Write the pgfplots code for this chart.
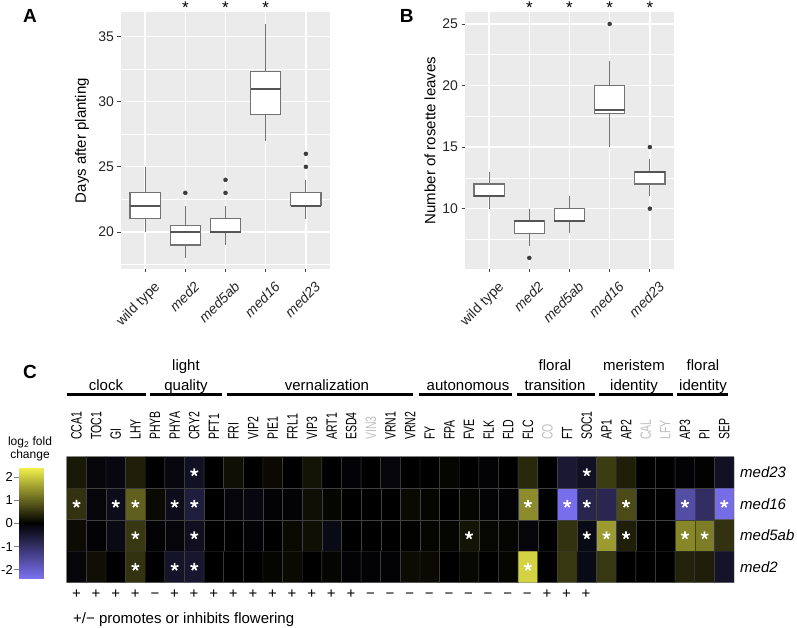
\documentclass[border=0pt]{standalone}
\usepackage{pgfplots}
\pgfplotsset{compat=1.18}
\usepgfplotslibrary{statistics}
\usepackage{graphicx}
\usepackage{fontspec}
\setmainfont{Liberation Sans}
\definecolor{panelbg}{RGB}{235,235,235}
\definecolor{boxline}{RGB}{115,115,115}
\definecolor{medline}{RGB}{85,85,85}
\definecolor{outl}{RGB}{60,60,60}
\definecolor{lgray}{RGB}{190,190,190}
\newcommand{\fsz}[1]{\fontsize{#1bp}{#1bp}\selectfont}
\newcommand{\g}[1]{\scalebox{0.7}[1]{#1}}
\newcommand{\gx}[1]{\scalebox{0.7}[1]{\textcolor{lgray}{#1}}}

\pgfplotstableread{
x y c
0 0 0.25
1 0 -0.1
2 0 -0.15
3 0 0.3
4 0 0
5 0 -0.15
6 0 -0.35
7 0 0
8 0 0.15
9 0 0
10 0 0.1
11 0 0
12 0 0.2
13 0 0
14 0 -0.05
15 0 0
16 0 -0.1
17 0 0
18 0 0
19 0 0.05
20 0 0
21 0 -0.05
22 0 0
23 0 0.4
24 0 0
25 0 -0.5
26 0 -0.35
27 0 0.6
28 0 0.3
29 0 0
30 0 0
31 0 -0.05
32 0 -0.03
33 0 -0.35
0 1 0.5
1 1 -0.1
2 1 -0.25
3 1 0.95
4 1 0.1
5 1 -0.25
6 1 -0.6
7 1 0
8 1 -0.1
9 1 -0.15
10 1 -0.05
11 1 -0.05
12 1 0.15
13 1 0.05
14 1 0
15 1 0
16 1 0
17 1 0.1
18 1 0.05
19 1 0
20 1 0.05
21 1 -0.05
22 1 -0.05
23 1 1.4
24 1 0
25 1 -2.3
26 1 -0.75
27 1 -0.8
28 1 0.75
29 1 0
30 1 0
31 1 -1.6
32 1 -0.95
33 1 -2.25
0 2 0.12
1 2 -0.05
2 2 -0.2
3 2 0.55
4 2 -0.05
5 2 -0.1
6 2 -0.3
7 2 0
8 2 0
9 2 -0.05
10 2 0
11 2 0.1
12 2 0.15
13 2 -0.2
14 2 0
15 2 0
16 2 0
17 2 0.02
18 2 0.05
19 2 0.05
20 2 0.2
21 2 0.07
22 2 0.05
23 2 -0.1
24 2 0
25 2 0.5
26 2 -0.2
27 2 1.55
28 2 0.3
29 2 0
30 2 0
31 2 1.35
32 2 1.25
33 2 0.5
0 3 -0.1
1 3 0.15
2 3 0
3 3 0.5
4 3 0
5 3 -0.4
6 3 -0.45
7 3 0
8 3 0
9 3 0
10 3 0.05
11 3 0.1
12 3 0
13 3 0.05
14 3 -0.05
15 3 -0.05
16 3 -0.05
17 3 0.12
18 3 0.1
19 3 0
20 3 0.08
21 3 0
22 3 0.05
23 3 2.1
24 3 0
25 3 0.55
26 3 -0.2
27 3 0.55
28 3 0
29 3 0
30 3 0
31 3 0.35
32 3 0.3
33 3 -0.4
}\heatdata

\pgfplotsset{
  heatmap/.style={colormap={heat}{rgb255=(125,115,245) rgb255=(0,0,0) rgb255=(240,240,75)},
    point meta min=-2.4, point meta max=2.4},
  ggbox/.style={
    scale only axis, width=209bp, height=257bp, anchor=south west,
    axis background/.style={fill=panelbg},
    axis line style={draw=none},
    xmin=-0.6, xmax=4.6,
    xtick={0,1,2,3,4},
    xticklabels={wild type, \textit{med2}, \textit{med5ab}, \textit{med16}, \textit{med23}},
    xmajorgrids, ymajorgrids, yminorgrids,
    major grid style={white, line width=1.3bp},
    minor grid style={white, line width=0.7bp},
    tick pos=left,
    tick align=outside, major tick length=3.5bp, minor tick length=0pt,
    tick style={draw=black!75, line width=0.8bp},
    /pgf/number format/assume math mode=true,
    ticklabel style={font=\fsz{14}, text=black!85},
    xticklabel style={xshift=8bp, yshift=-8bp, rotate=45, anchor=north east, inner sep=0pt},
    label style={font=\fsz{15}},
    clip=false,
    boxplot/draw direction=y,
    boxplot/box extend=0.75,
    boxplot/whisker extend=0,
    boxplot/every box/.style={draw=boxline, fill=white, line width=1.2bp},
    boxplot/every whisker/.style={draw=boxline, line width=1.2bp},
    boxplot/every median/.style={draw=medline, line width=1.7bp},
  },
  bx/.style={boxplot prepared={#1}, draw=boxline, fill=white, mark=*, mark size=2bp, mark options={draw=outl, fill=outl}},
}

\begin{document}
\begin{tikzpicture}
\useasboundingbox (0,0) rectangle (797bp,628bp);

% ---------------- Panel A
\begin{axis}[ggbox, at={(121bp,359bp)},
  ymin=17.15, ymax=36.9,
  ytick={20,25,30,35}, minor ytick={17.5,22.5,27.5,32.5},
  ylabel={Days after planting},
  ylabel style={at={(axis description cs:-0.187,0.5)}, anchor=center}]
\addplot[bx={draw position=0, lower whisker=20, lower quartile=21, median=22, upper quartile=23, upper whisker=25}] coordinates {};
\addplot[bx={draw position=1, lower whisker=18, lower quartile=19, median=20, upper quartile=20.5, upper whisker=22}] table[row sep=\\, y index=0] {data\\ 23\\};
\addplot[bx={draw position=2, lower whisker=19, lower quartile=20, median=20, upper quartile=21, upper whisker=22}] table[row sep=\\, y index=0] {data\\ 23\\ 24\\};
\addplot[bx={draw position=3, lower whisker=27, lower quartile=29, median=31, upper quartile=32.3, upper whisker=36}] coordinates {};
\addplot[bx={draw position=4, lower whisker=21, lower quartile=22, median=22, upper quartile=23, upper whisker=24}] table[row sep=\\, y index=0] {data\\ 25\\ 26\\};
\node[anchor=north, inner sep=0pt, font=\fsz{17}] at (axis cs:1,37.69) {*};
\node[anchor=north, inner sep=0pt, font=\fsz{17}] at (axis cs:2,37.69) {*};
\node[anchor=north, inner sep=0pt, font=\fsz{17}] at (axis cs:3,37.69) {*};
\end{axis}

% ---------------- Panel B
\begin{axis}[ggbox, at={(465bp,359bp)},
  ymin=5.1, ymax=25.97,
  ytick={10,15,20,25}, minor ytick={7.5,12.5,17.5,22.5},
  ylabel={Number of rosette leaves},
  ylabel style={at={(axis description cs:-0.167,0.5)}, anchor=center}]
\addplot[bx={draw position=0, lower whisker=10, lower quartile=11, median=11, upper quartile=12, upper whisker=13}] coordinates {};
\addplot[bx={draw position=1, lower whisker=7, lower quartile=8, median=9, upper quartile=9, upper whisker=10}] table[row sep=\\, y index=0] {data\\ 6\\};
\addplot[bx={draw position=2, lower whisker=8, lower quartile=9, median=9, upper quartile=10, upper whisker=11}] coordinates {};
\addplot[bx={draw position=3, lower whisker=15, lower quartile=17.75, median=18, upper quartile=20, upper whisker=22}] table[row sep=\\, y index=0] {data\\ 25\\};
\addplot[bx={draw position=4, lower whisker=11, lower quartile=12, median=13, upper quartile=13, upper whisker=14}] table[row sep=\\, y index=0] {data\\ 10\\ 15\\};
\node[anchor=north, inner sep=0pt, font=\fsz{17}] at (axis cs:1,26.81) {*};
\node[anchor=north, inner sep=0pt, font=\fsz{17}] at (axis cs:2,26.81) {*};
\node[anchor=north, inner sep=0pt, font=\fsz{17}] at (axis cs:3,26.81) {*};
\node[anchor=north, inner sep=0pt, font=\fsz{17}] at (axis cs:4,26.81) {*};
\end{axis}

% ---------------- Panel C heatmap
\begin{axis}[heatmap, at={(66.7bp,45.3bp)}, anchor=south west, scale only axis,
  width=667.3bp, height=126bp,
  xmin=-0.5, xmax=33.5, ymin=-0.5, ymax=3.5, y dir=reverse,
  axis line style={draw=none},
  tick style={draw=none},
  xtick={0,...,33},
  xticklabels={\g{CCA1},\g{TOC1},\g{GI},\g{LHY},\g{PHYB},\g{PHYA},\g{CRY2},\g{PFT1},\g{FRI},\g{VIP2},\g{PIE1},\g{FRL1},\g{VIP3},\g{ART1},\g{ESD4},\gx{VIN3},\g{VRN1},\g{VRN2},\g{FY},\g{FPA},\g{FVE},\g{FLK},\g{FLD},\g{FLC},\gx{CO},\g{FT},\g{SOC1},\g{AP1},\g{AP2},\gx{CAL},\gx{LFY},\g{AP3},\g{PI},\g{SEP}},
  xticklabel pos=upper,
  xticklabel style={rotate=90, anchor=west, inner sep=0pt, font=\fsz{15}},
  xticklabel shift=16.7bp,
  ytick={0,1,2,3},
  yticklabels={med23,med16,med5ab,med2},
  yticklabel pos=right,
  yticklabel style={anchor=west, inner sep=0pt, font=\fsz{15}\itshape},
  yticklabel shift=6bp,
  clip=false]
\addplot[matrix plot*, mesh/cols=34, point meta=explicit, draw=black!75!white, line width=0.4bp] table[meta=c] {\heatdata};
\addplot[only marks, mark=star, mark size=4bp, draw=white, line width=1.7bp] coordinates {
(6,0) (26,0)
(0,1) (2,1) (3,1) (5,1) (6,1) (23,1) (25,1) (26,1) (28,1) (31,1) (33,1)
(3,2) (6,2) (20,2) (26,2) (27,2) (28,2) (31,2) (32,2)
(3,3) (5,3) (6,3) (23,3)
};
\end{axis}

% ---------------- colour scale
\begin{axis}[heatmap, at={(19bp,49bp)}, anchor=south west, scale only axis,
  width=25bp, height=111.3bp,
  xmin=0, xmax=1, ymin=-2.4, ymax=2.4,
  axis line style={draw=none},
  xtick=\empty,
  ytick={-2,-1,0,1,2},
  ytick pos=left,
  tick align=outside, major tick length=5bp,
  ytick style={draw=gray, line width=0.6bp},
  /pgf/number format/assume math mode=true,
  yticklabel style={font=\fsz{13}, inner sep=1bp},
  clip=true]
\addplot[surf, shader=interp, mesh/cols=2, point meta=y] coordinates {(0,-2.4) (1,-2.4) (0,0) (1,0) (0,2.4) (1,2.4)};
\end{axis}

\begin{scope}[x=1bp,y=1bp]
% group bars and labels
\begin{scope}[line width=3bp]
\draw (66.7,233) -- (145.7,233);
\draw (150,233) -- (221.7,233);
\draw (226.7,233) -- (412.7,233);
\draw (419.3,233) -- (511.7,233);
\draw (517.3,233) -- (595,233);
\draw (599.3,233) -- (673.3,233);
\draw (677.3,233) -- (728.3,233);
\end{scope}
\begin{scope}[every node/.style={anchor=base, inner sep=0pt, font=\fsz{15}}]
\node at (106,238) {clock};
\node at (186,258) {light};
\node at (186,238) {quality};
\node at (327,238) {vernalization};
\node at (468,238) {autonomous};
\node at (555,258) {floral};
\node at (555,238) {transition};
\node at (634,258) {meristem};
\node at (634,238) {identity};
\node at (703,258) {floral};
\node at (703,238) {identity};
\end{scope}

% signs
\foreach \s [count=\i from 0] in {+,+,+,+,−,+,+,+,+,+,+,+,+,+,+,−,−,−,−,−,−,−,−,−,+,+,+}
  \node[anchor=base, inner sep=0pt, font=\fsz{15}] at ({76.5+19.6*\i},30) {\s};
\node[anchor=base west, inner sep=0pt, font=\fsz{15}] at (73,5) {+/− promotes or inhibits flowering};

% legend title
\node[anchor=base, inner sep=0pt, font=\fsz{12}] at (30,182.5) {log\textsubscript{2} fold};
\node[anchor=base, inner sep=0pt, font=\fsz{12}] at (30,169.5) {change};

% panel letters
\node[font=\fsz{19}\bfseries] at (30,612) {A};
\node[font=\fsz{19}\bfseries] at (406.7,612) {B};
\node[font=\fsz{19}\bfseries] at (30,256.3) {C};
\end{scope}
\end{tikzpicture}
\end{document}
